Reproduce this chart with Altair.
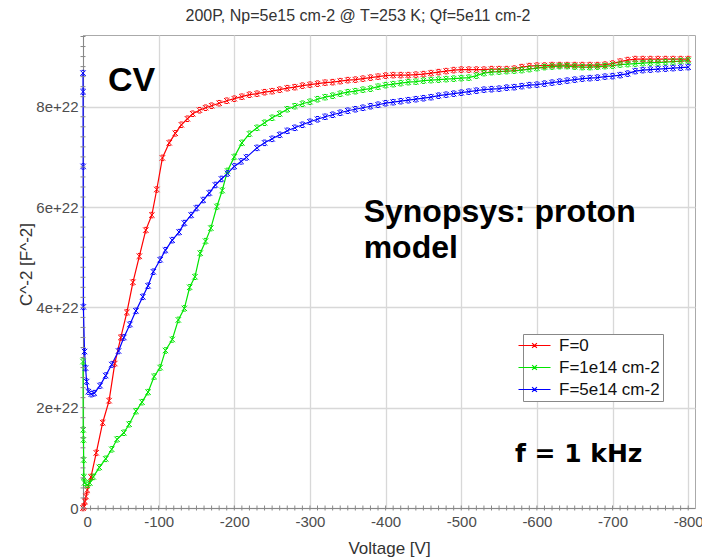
import altair as alt
import pandas as pd

# ---------------- data (C^-2 in units of 1e22 F^-2, voltage in V) ----------------
series_names = ["F=0", "F=1e14 cm-2", "F=5e14 cm-2"]
series_colors = ["#ff0000", "#00e600", "#0000ff"]

red_v = [0, -1.3, -2.6, -4, -5.7, -10.6, -17.5, -26, -34.5, -42, -50, -58, -66, -74.5, -83, -91,
         -97.5, -105, -114, -122, -130, -138, -145, -154, -162, -170, -180, -190, -200, -210, -220,
         -230, -240, -250, -260, -270, -280, -290, -300, -310, -320, -330, -340, -350, -360, -370,
         -380, -390, -400, -410, -420, -430, -440, -450, -460, -470, -480, -490, -500, -510, -520,
         -530, -540, -550, -560, -570, -580, -590, -600, -610, -620, -630, -640, -650, -660, -670,
         -680, -690, -700, -710, -720, -730, -740, -750, -760, -770, -780, -790, -800]
red_c = [0.0, 0.03, 0.13, 0.23, 0.36, 0.62, 1.10, 1.70, 2.14, 2.88, 3.40, 3.90, 4.50, 5.02, 5.54, 5.84,
         6.35, 6.98, 7.28, 7.47, 7.64, 7.76, 7.86, 7.93, 7.98, 8.02, 8.07, 8.12, 8.16, 8.20, 8.24,
         8.26, 8.29, 8.31, 8.34, 8.37, 8.39, 8.42, 8.44, 8.46, 8.48, 8.49, 8.51, 8.53, 8.54, 8.56,
         8.58, 8.60, 8.62, 8.63, 8.63, 8.63, 8.64, 8.65, 8.67, 8.69, 8.71, 8.73, 8.74, 8.74, 8.74,
         8.74, 8.75, 8.75, 8.75, 8.76, 8.79, 8.81, 8.82, 8.82, 8.83, 8.83, 8.83, 8.83, 8.83, 8.83,
         8.83, 8.84, 8.86, 8.90, 8.93, 8.95, 8.95, 8.95, 8.95, 8.95, 8.95, 8.95, 8.95]

green_v = [0, -0.3, -0.6, -0.9, -1.2, -2, -5.7, -9, -13.6, -21.6, -30, -38, -45, -54, -61, -70, -78,
           -86, -94, -102, -109, -118, -126, -134, -141, -148, -155, -162, -169, -177, -184, -191,
           -200, -210, -220, -230, -240, -250, -260, -270, -280, -290, -300, -310, -320, -330, -340,
           -350, -360, -370, -380, -390, -400, -410, -420, -430, -440, -450, -460, -470, -480, -490,
           -500, -510, -520, -530, -540, -550, -560, -570, -580, -590, -600, -610, -620, -630, -640,
           -650, -660, -670, -680, -690, -700, -710, -720, -730, -740, -750, -760, -770, -780, -790,
           -800]
green_c = [2.92, 1.56, 1.36, 0.96, 0.62, 0.50, 0.46, 0.50, 0.62, 0.81, 0.98, 1.17, 1.37, 1.50, 1.67,
           1.93, 2.11, 2.31, 2.62, 2.80, 3.14, 3.36, 3.75, 3.98, 4.40, 4.61, 5.08, 5.32, 5.58, 6.01,
           6.33, 6.72, 7.00, 7.28, 7.46, 7.58, 7.68, 7.78, 7.86, 7.95, 8.01, 8.06, 8.10, 8.15, 8.19,
           8.22, 8.26, 8.29, 8.31, 8.34, 8.36, 8.40, 8.43, 8.45, 8.47, 8.49, 8.50, 8.52, 8.53, 8.54,
           8.55, 8.56, 8.57, 8.58, 8.62, 8.67, 8.69, 8.70, 8.71, 8.72, 8.73, 8.75, 8.77, 8.79, 8.80,
           8.81, 8.81, 8.80, 8.79, 8.79, 8.80, 8.81, 8.82, 8.84, 8.85, 8.86, 8.87, 8.88, 8.88, 8.89,
           8.90, 8.91, 8.92]

blue_v = [0, -0.1, -0.2, -0.5, -2, -3.4, -4.8, -7, -11, -15, -22.5, -30, -38, -47, -54, -62, -70,
          -79, -86, -93, -102, -109, -118, -127, -134, -143, -150, -159, -167, -175, -183, -191,
          -200, -209, -216, -230, -240, -250, -260, -270, -280, -290, -300, -310, -320, -330, -340,
          -350, -360, -370, -380, -390, -400, -410, -420, -430, -440, -450, -460, -470, -480, -490,
          -500, -510, -520, -530, -540, -550, -560, -570, -580, -590, -600, -610, -620, -630, -640,
          -650, -660, -670, -680, -690, -700, -710, -720, -730, -740, -750, -760, -770, -780, -790,
          -800]
blue_c = [8.67, 8.30, 6.81, 4.01, 3.12, 2.79, 2.52, 2.32, 2.27, 2.29, 2.44, 2.64, 2.86, 3.13, 3.40,
          3.66, 3.93, 4.21, 4.43, 4.71, 4.95, 5.14, 5.34, 5.50, 5.68, 5.84, 5.98, 6.14, 6.28, 6.44,
          6.56, 6.67, 6.81, 6.91, 6.99, 7.18, 7.28, 7.36, 7.44, 7.52, 7.58, 7.64, 7.70, 7.75, 7.80,
          7.84, 7.88, 7.92, 7.95, 7.98, 8.01, 8.04, 8.07, 8.09, 8.11, 8.13, 8.15, 8.17, 8.19, 8.22,
          8.24, 8.26, 8.28, 8.30, 8.32, 8.34, 8.35, 8.36, 8.38, 8.39, 8.41, 8.43, 8.44, 8.46, 8.48,
          8.50, 8.52, 8.54, 8.56, 8.57, 8.58, 8.60, 8.61, 8.63, 8.66, 8.71, 8.73, 8.74, 8.75, 8.76,
          8.77, 8.78, 8.79]

x_ticks = [0, -100, -200, -300, -400, -500, -600, -700, -800]
y_ticks = [0, 2, 4, 6, 8]
x_minor = [-10 * i for i in range(81)]
y_minor = [round(0.2 * i, 1) for i in range(48)]

title_text = "200P, Np=5e15 cm-2 @ T=253 K; Qf=5e11 cm-2"
annotations = [
    {"V": -33, "C": 8.31, "label": "CV"},
    {"V": -371, "C": 5.70, "label": "Synopsys: proton\nmodel"},
    {"V": -571, "C": 0.92, "label": "f = 1 kHz"},
]

# ---------------- build tables ----------------
rows = []
for name, vs, cs in zip(series_names, [red_v, green_v, blue_v], [red_c, green_c, blue_c]):
    for i, (v, c) in enumerate(zip(vs, cs)):
        rows.append({"series": name, "V": v, "C": c, "idx": i})
df = pd.DataFrame(rows)

W, H = 612, 473
FONT = "Liberation Sans"

xscale = alt.Scale(domain=[-809, 0], reverse=True, nice=False, zero=False)
yscale = alt.Scale(domain=[0, 9.43], nice=False, zero=False)

axis_style = dict(
    ticks=False, tickSize=0, grid=True, gridColor="#d8d8d8", gridWidth=1.3,
    domainColor="#888", domainWidth=1,
    labelFont=FONT, labelFontSize=15, labelColor="#4d4d4d",
    titleFont=FONT, titleFontSize=17, titleFontWeight="normal", titleColor="#333",
    titleBaseline="alphabetic",
)
xaxis = alt.Axis(values=x_ticks, labelPadding=6,
                 labelExpr="datum.value == 0 ? '0' : '-' + abs(datum.value)",
                 titleY=45, **axis_style)
yaxis = alt.Axis(values=y_ticks, labelPadding=5,
                 labelExpr="datum.value == 0 ? '0' : datum.value + 'e+22'",
                 titleX=-52, titleY=229, titleAngle=-90, titleAlign="center", **axis_style)
XT = "Voltage [V]"
YT = "C^-2 [F^-2]"

marker = "M-1,-1L1,1M-1,1L1,-1M-0.55,-1L0.55,-1M-0.55,1L0.55,1"
legend_sym = "M-4,0L4,0M-0.6,-0.6L0.6,0.6M-0.6,0.6L0.6,-0.6"

lines = alt.Chart(df).mark_line(
    strokeWidth=1.2,
    point=alt.OverlayMarkDef(shape=marker, size=30, filled=False, strokeWidth=1),
).encode(
    x=alt.X("V:Q", scale=xscale, title=XT, axis=xaxis),
    y=alt.Y("C:Q", scale=yscale, title=YT, axis=yaxis),
    color=alt.Color("series:N",
                    scale=alt.Scale(domain=series_names, range=series_colors),
                    legend=alt.Legend(orient="none", legendX=440, legendY=299, title=None,
                                      labelFont=FONT, labelFontSize=17, labelColor="#111",
                                      symbolType=legend_sym, symbolSize=64,
                                      symbolStrokeWidth=1.2, symbolFillColor="transparent",
                                      labelOffset=16, padding=3, rowPadding=4,
                                      strokeColor="#888", fillColor="white")),
    order="idx:Q",
)

xt = alt.Chart(pd.DataFrame({"V": x_minor})).mark_rule(color="#888", strokeWidth=1).encode(
    x=alt.X("V:Q", scale=xscale, title=XT, axis=xaxis),
    y=alt.value(H - 2.5), y2=alt.value(H + 2.5),
)
yt = alt.Chart(pd.DataFrame({"C": y_minor})).mark_rule(color="#888", strokeWidth=1).encode(
    y=alt.Y("C:Q", scale=yscale, title=YT, axis=yaxis),
    x=alt.value(-2.5), x2=alt.value(2.5),
)

ann = pd.DataFrame(annotations)
enc = dict(x=alt.X("V:Q", scale=xscale, title=XT, axis=xaxis),
           y=alt.Y("C:Q", scale=yscale, title=YT, axis=yaxis),
           text="label:N")
cv = alt.Chart(ann.iloc[[0]]).mark_text(
    font=FONT, fontSize=34, fontWeight="bold", align="left", baseline="alphabetic", color="black"
).encode(**enc)
syn = alt.Chart(ann.iloc[[1]]).mark_text(
    font=FONT, fontSize=32, fontWeight="bold", align="left", baseline="alphabetic",
    color="black", lineBreak="\n", lineHeight=36
).encode(**enc)
fk = alt.Chart(ann.iloc[[2]]).mark_text(
    font="DejaVu Sans", fontSize=25, fontWeight="bold", align="left", baseline="alphabetic",
    color="black"
).encode(**enc)

chart = alt.layer(lines, xt, yt, cv, syn, fk).properties(
    width=W, height=H,
    background="white",
    title=alt.TitleParams(text=title_text, font=FONT, fontSize=16, fontWeight="normal",
                          color="#333", anchor="middle", offset=-2, dx=-31,
                          baseline="alphabetic"),
    autosize=alt.AutoSizeParams(type="none"),
    padding={"left": 83, "top": 35, "right": 7, "bottom": 49},
).configure_view(
    stroke="#aaa", strokeWidth=1
)

chart.save("out.html", embed_options={"renderer": "svg", "actions": False})
